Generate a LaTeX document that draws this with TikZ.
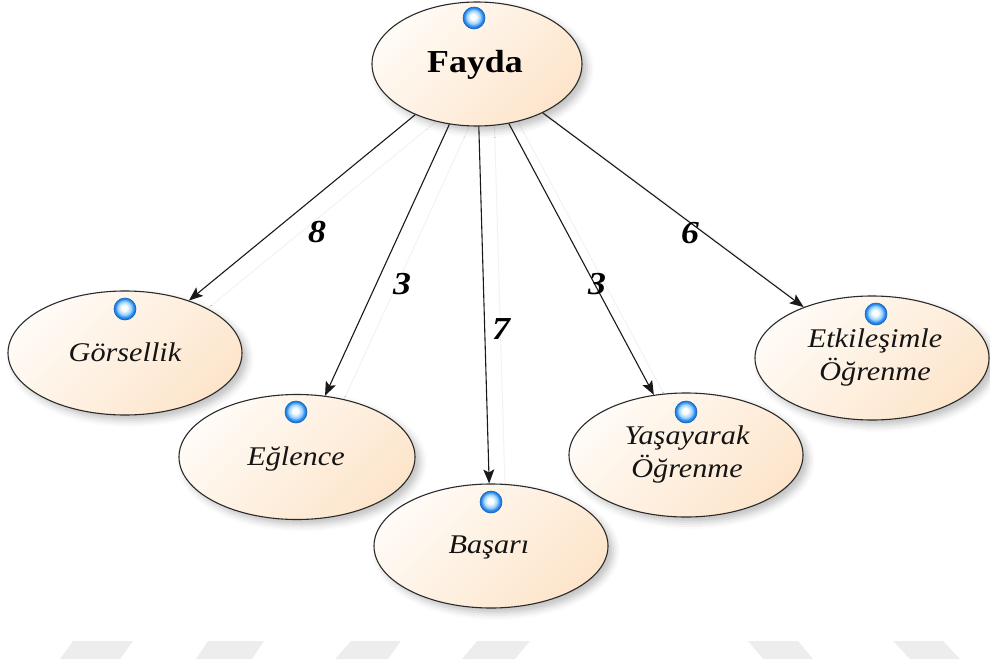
\documentclass[tikz,border=0pt]{standalone}
\usepackage{fontspec}
\setmainfont{Liberation Serif}
\newfontfamily\lblfont[FakeStretch=1.12]{Liberation Serif}
\usetikzlibrary{arrows.meta,shapes.geometric,shadows.blur}

\definecolor{capfill}{HTML}{FFFBF6}
\definecolor{peach}{HTML}{FDE5CB}
\definecolor{rimline}{HTML}{2A2A2A}
\definecolor{beadlight}{HTML}{9ED3FF}
\definecolor{beadblue}{HTML}{1C7FE6}
\definecolor{beadline}{HTML}{1461B5}
\definecolor{stripe}{HTML}{EDEDED}
\definecolor{ghost}{HTML}{F2F2F2}

% glossy bead: white core, blue rim
\pgfdeclareradialshading{bead}{\pgfpoint{-2bp}{3bp}}{%
  color(0bp)=(white); color(6bp)=(white); color(15bp)=(beadlight);
  color(22bp)=(beadblue); color(50bp)=(beadblue)}

\tikzset{
  topic/.style={ellipse, draw=rimline, line width=1.1pt,
    top color=capfill, bottom color=peach, shading angle=45,
    minimum width=234pt, minimum height=124pt, inner sep=0pt,
    blur shadow={shadow xshift=5pt, shadow yshift=-5pt,
      shadow blur radius=7pt, shadow opacity=25}},
  bead/.style={circle, shading=bead, draw=beadline, line width=0.6pt,
    minimum size=22pt, inner sep=0pt},
  caption/.style={anchor=base, align=center, text=black!92,
    font=\lblfont\itshape\fontsize{27}{33}\selectfont},
  weight/.style={anchor=base, text=black,
    font=\lblfont\bfseries\itshape\fontsize{32}{36}\selectfont},
  conn/.style={draw=black!90, line width=1.1pt,
    -{Stealth[length=14pt,width=11pt,inset=3pt]}},
  ghostline/.style={draw=ghost, line width=1pt},
  stripebar/.style={fill=stripe, draw=none},
}

\begin{document}
\begin{tikzpicture}[x=1pt,y=-1pt]
\useasboundingbox (0,0) rectangle (990,669);

% light band of marks along the bottom edge
\fill[stripebar] (60,659) -- (120,659) -- (133,641) -- (73,641) -- cycle;
\fill[stripebar] (196,659) -- (252,659) -- (264,641) -- (208,641) -- cycle;
\fill[stripebar] (335,659) -- (388,659) -- (401,641) -- (351,641) -- cycle;
\fill[stripebar] (462,659) -- (515,659) -- (530,641) -- (477,641) -- cycle;
\fill[stripebar] (763,659) -- (813,659) -- (798,641) -- (748,641) -- cycle;
\fill[stripebar] (910,659) -- (960,659) -- (943,641) -- (893,641) -- cycle;

% faint trailing strokes beside the connectors
\coordinate (gf) at (493,75);
\coordinate (gg) at (141,363);
\coordinate (ge) at (313,467);
\coordinate (gb) at (507,556);
\coordinate (gy) at (702,465);
\coordinate (gk) at (888,368);
\draw[ghostline] (gf) -- (gg);
\draw[ghostline] (gf) -- (ge);
\draw[ghostline] (gf) -- (gb);
\draw[ghostline] (gf) -- (gy);
\draw[ghostline] (gf) -- (gk);

% topic ellipses
\node[topic, minimum width=210pt, minimum height=124pt] (f) at (477,64) {};
\node[topic] (g) at (125,353) {};
\node[topic, minimum width=236pt, minimum height=125pt] (e) at (297,457) {};
\node[topic] (b) at (491,546) {};
\node[topic] (y) at (686,455) {};
\node[topic] (k) at (872,358) {};

% connectors
\draw[conn] (f) -- (g);
\draw[conn] (f) -- (e);
\draw[conn] (f) -- (b);
\draw[conn] (f) -- (y);
\draw[conn] (f) -- (k);

% beads
\node[bead] (fb) at (474,18) {};
\node[bead] (gbd) at (125,309) {};
\node[bead] (ebd) at (296,412) {};
\node[bead] (bbd) at (491,502) {};
\node[bead] (ybd) at (686,412) {};
\node[bead] (kbd) at (876,314) {};

% captions (base anchor sits on the last line)
\node[anchor=base, text=black,
  font=\lblfont\bfseries\fontsize{32}{36}\selectfont] (ft) at (475,73) {Fayda};
\node[caption] (gt) at (125,361) {Görsellik};
\node[caption] (et) at (296,465) {Eğlence};
\node[caption] (bt) at (489,553) {Başarı};
\node[caption] (yt) at (687,477) {Yaşayarak\\Öğrenme};
\node[caption] (kt) at (875,380) {Etkileşimle\\Öğrenme};

% weights
\node[weight] (w1) at (317,242) {8};
\node[weight] (w2) at (402,294) {3};
\node[weight] (w3) at (501,339) {7};
\node[weight] (w4) at (597,294) {3};
\node[weight] (w5) at (690,243) {6};
\end{tikzpicture}
\end{document}
